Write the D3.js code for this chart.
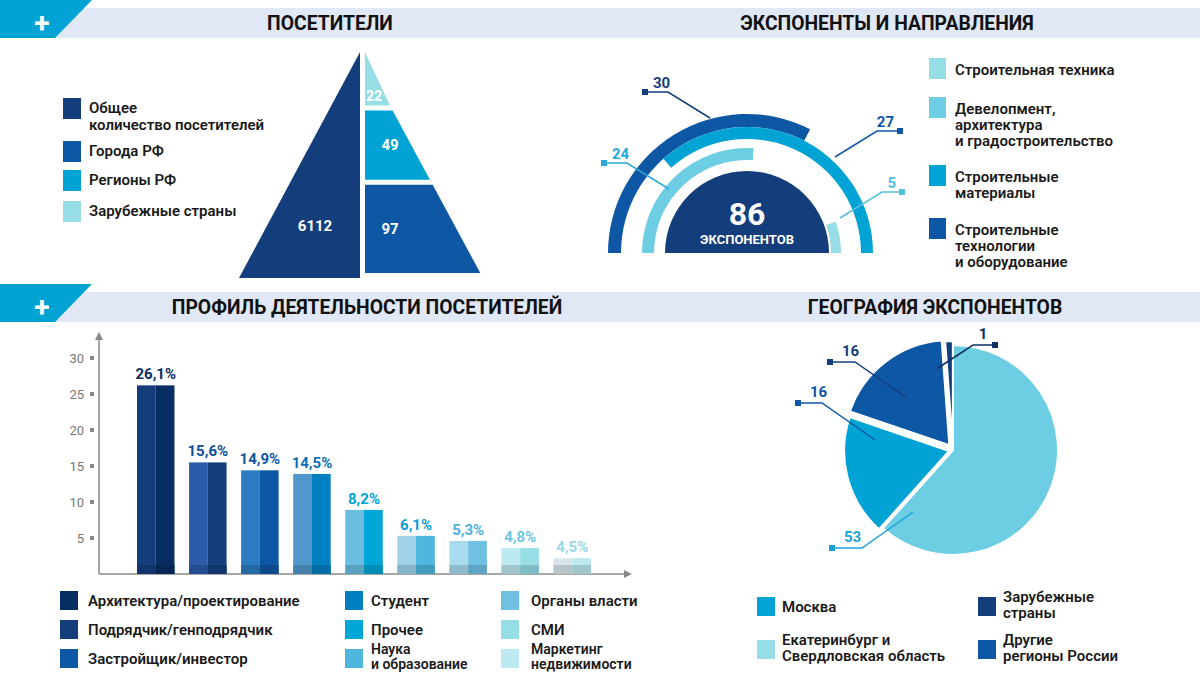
<!DOCTYPE html>
<html><head><meta charset="utf-8">
<script src="https://cdn.jsdelivr.net/npm/d3@7"></script>
<style>
body{margin:0;background:#fff;}
text{font-family:Roboto,"Noto Sans",sans-serif;}
</style></head>
<body><svg id="chart" width="1200" height="676"></svg>
<script>
// visitors pyramid
const visitorTotal = 6112;
const visitorParts = [{name:'Зарубежные страны', value:22}, {name:'Регионы РФ', value:49}, {name:'Города РФ', value:97}];
const visitorLegend = [['Общее', 'количество посетителей'], ['Города РФ'], ['Регионы РФ'], ['Зарубежные страны']];
const visitorColors = ['#143d7c', '#0e57a5', '#00a3d4', '#96dde5'];

// exhibitor arcs
const exhibitorTotal = 86;
const directionNames = [['Строительная техника'], ['Девелопмент,', 'архитектура', 'и градостроительство'], ['Строительные', 'материалы'], ['Строительные', 'технологии', 'и оборудование']];
const directionValues = [5, 24, 27, 30];
const directionColors = ['#96dde5', '#6dcde3', '#00a3d4', '#0e57a5'];

// activity profile
const profileNames = ['Архитектура/проектирование', 'Подрядчик/генподрядчик', 'Застройщик/инвестор', 'Студент', 'Прочее', 'Наука|и образование', 'Органы власти', 'СМИ', 'Маркетинг|недвижимости'];
const profileLabels = ['26,1%', '15,6%', '14,9%', '14,5%', '8,2%', '6,1%', '5,3%', '4,8%', '4,5%'];
const profileHeights = [26.2, 15.5, 14.4, 13.9, 8.9, 5.3, 4.6, 3.6, 2.2];
const profileTicks = [5, 10, 15, 20, 25, 30];
const barLeft = ['#143d7c', '#2a5aa8', '#2a7bbf', '#5297cc', '#6abde0', '#9fd2e8', '#a8dbee', '#bdeaf0', '#d8e6ec'];
const barRight = ['#082d63', '#143d7c', '#0e57a5', '#0080c0', '#00a6d6', '#4fb6de', '#70c0e4', '#96dde5', '#bdeaf0'];
const labelColors = ['#0b2f66', '#0e4d97', '#0e57a5', '#0e6fb5', '#00a3d4', '#109bd0', '#4fb0dc', '#70c7e0', '#96d8e5'];
const legendColors = ['#082d63', '#143d7c', '#0e57a5', '#0080c0', '#00a6d6', '#4fb6de', '#70c0e4', '#96dde5', '#bdeaf0'];

// geography
const geoNames = ['Екатеринбург и|Свердловская область', 'Москва', 'Другие|регионы России', 'Зарубежные|страны'];
const geoValues = [53, 16, 16, 1];
const geoColors = ['#6dcde3', '#00a3d4', '#0e57a5', '#143d7c'];

const svg = d3.select('#chart');

// headers
const header = (y, titles) => {
  svg.append('rect').attr('x', 0).attr('y', y).attr('width', 1200).attr('height', 30).attr('fill', '#dfe8f4');
  svg.append('path').attr('d', `M0,${y - 8}L92,${y - 8}L55,${y + 30}L0,${y + 30}Z`).attr('fill', '#00a3d4');
  svg.append('text').attr('x', 42).attr('y', y + 15).attr('text-anchor', 'middle').attr('dominant-baseline', 'central')
    .attr('fill', '#fff').attr('font-size', 28).attr('font-weight', 700).text('+');
  titles.forEach(([x, t]) => svg.append('text').attr('x', x).attr('y', y + 22).attr('text-anchor', 'middle')
    .attr('font-size', 21).attr('font-weight', 700).attr('fill', '#111').attr('transform', `translate(${x},0) scale(0.92,1) translate(${-x},0)`).text(t));
};
header(8, [[330, 'ПОСЕТИТЕЛИ'], [887, 'ЭКСПОНЕНТЫ И НАПРАВЛЕНИЯ']]);
header(292, [[367, 'ПРОФИЛЬ ДЕЯТЕЛЬНОСТИ ПОСЕТИТЕЛЕЙ'], [935, 'ГЕОГРАФИЯ ЭКСПОНЕНТОВ']]);

// ---------- pyramid ----------
{
  const apex = [361, 52], baseY = 278, halfW = 122;
  const xAt = yy => apex[0] + halfW * (yy - apex[1]) / (baseY - apex[1]);
  svg.append('path').attr('d', `M${apex[0] - 1},${apex[1]}L${apex[0] - 1},${baseY}L${apex[0] - halfW},${baseY}Z`).attr('fill', visitorColors[0]);
  svg.append('text').attr('x', 315).attr('y', 231).attr('text-anchor', 'middle').attr('fill', '#fff')
    .attr('font-size', 15).attr('font-weight', 700).text(visitorTotal);
  // tier heights grow with the square root of each value
  const cum = [0];
  visitorParts.forEach(d => cum.push(cum[cum.length - 1] + Math.sqrt(d.value) + 4));
  const y = d3.scaleLinear().domain([0, cum[cum.length - 1]]).range([apex[1], baseY]);
  visitorParts.forEach((d, i) => {
    const y0 = y(cum[i]), y1 = y(cum[i + 1]) - 5;
    const x0 = apex[0] + 4;
    const c = i === 0 ? visitorColors[3] : i === 1 ? visitorColors[2] : visitorColors[1];
    svg.append('path').attr('d', `M${x0},${y0}L${Math.max(x0, xAt(y0))},${y0}L${xAt(y1)},${y1}L${x0},${y1}Z`).attr('fill', c);
    svg.append('text').attr('x', i === 0 ? 374 : 390).attr('y', i === 0 ? y1 - 5 : (y0 + y1) / 2 + 5).attr('text-anchor', 'middle')
      .attr('fill', '#fff').attr('font-size', i === 0 ? 14 : 15).attr('font-weight', 700).text(d.value);
  });
  const ly = [98, 141, 170, 201];
  visitorLegend.forEach((lines, i) => {
    svg.append('rect').attr('x', 63).attr('y', ly[i]).attr('width', 18).attr('height', 21).attr('fill', visitorColors[i]);
    lines.forEach((t, j) => svg.append('text').attr('x', 89).attr('y', ly[i] + 15 + j * 17)
      .attr('font-size', 15).attr('font-weight', 600).attr('fill', '#1a1a1a').text(t));
  });
}

// ---------- exhibitor arcs ----------
{
  const g = svg.append('g').attr('transform', 'translate(747,253)');
  const deg = d3.scaleLinear().domain([0, 30]).range([0, 117]);
  const rad = a => a * Math.PI / 180;
  g.append('path').attr('d', d3.arc()({innerRadius: 0, outerRadius: 82, startAngle: -Math.PI / 2, endAngle: Math.PI / 2})).attr('fill', '#143d7c');
  g.append('text').attr('y', -28).attr('text-anchor', 'middle').attr('fill', '#fff').attr('font-size', 32).attr('font-weight', 700).text(exhibitorTotal);
  g.append('text').attr('y', -9).attr('text-anchor', 'middle').attr('fill', '#fff').attr('font-size', 13).attr('font-weight', 700).text('ЭКСПОНЕНТОВ');
  const rings = [[3, 126, 139, 'start'], [2, 114, 126, 'end'], [1, 93, 105, 'start'], [0, 84, 94, 'end']];
  rings.forEach(([i, r0, r1, side]) => {
    const span = deg(directionValues[i]) * (i === 2 ? 1.25 : 1);
    const a0 = side === 'start' ? -90 : 90 - span, a1 = side === 'start' ? -90 + span : 90;
    g.append('path').attr('d', d3.arc()({innerRadius: r0, outerRadius: r1, startAngle: rad(a0), endAngle: rad(a1)})).attr('fill', directionColors[i]);
  });
  const calls = [[3, -102, -161, -79, -161, -38, 'end', '#143d7c'], [2, 153, -122, 130, -122, 91, 'start', '#0e57a5'],
                 [1, -143, -90, -120, -90, -80, 'end', '#2aa8d8'], [0, 155, -61, 135, -61, 93, 'start', '#55bfe0']];
  calls.forEach(([i, mx, my, kx, ky, ex, side, col]) => {
    g.append('path').attr('d', `M${mx},${my}L${kx},${ky}L${kx + (side === 'end' ? 42 : -42)},${ky + 26}`).attr('fill', 'none').attr('stroke', col).attr('stroke-width', 1.5);
    g.append('rect').attr('x', mx - 3).attr('y', my - 3).attr('width', 6).attr('height', 6).attr('fill', col);
    g.append('text').attr('x', side === 'end' ? mx + 8 : mx - 6).attr('y', my - 4).attr('text-anchor', side === 'end' ? 'start' : 'end')
      .attr('fill', col).attr('font-size', 15).attr('font-weight', 700).text(directionValues[i]);
  });
  const ly = [58, 97, 165, 218];
  directionNames.forEach((lines, i) => {
    svg.append('rect').attr('x', 929).attr('y', ly[i]).attr('width', 17).attr('height', 21).attr('fill', directionColors[i]);
    lines.forEach((t, j) => svg.append('text').attr('x', 955).attr('y', ly[i] + 17 + j * 16)
      .attr('font-size', 15).attr('font-weight', 600).attr('fill', '#1a1a1a').text(t));
  });
}

// ---------- activity bars ----------
{
  const x = d3.scaleBand().domain(profileNames).range([137, 591]).paddingInner(0.28).paddingOuter(0);
  const y = d3.scaleLinear().domain([0, 30]).range([574, 358]);
  svg.append('line').attr('x1', 99).attr('x2', 626).attr('y1', 574).attr('y2', 574).attr('stroke', '#888').attr('stroke-width', 1.5);
  svg.append('line').attr('x1', 99).attr('x2', 99).attr('y1', 574).attr('y2', 337).attr('stroke', '#888').attr('stroke-width', 1.5);
  svg.append('path').attr('d', 'M95,340L99,332L103,340Z').attr('fill', '#888');
  svg.append('path').attr('d', 'M624,570L632,574L624,578Z').attr('fill', '#888');
  const ax = svg.append('g').attr('transform', 'translate(86,0)')
    .call(d3.axisLeft(y).tickValues(profileTicks).tickSize(0).tickPadding(2));
  ax.select('.domain').remove();
  ax.selectAll('text').attr('font-size', 13).attr('fill', '#777').attr('font-family', 'Roboto');
  profileTicks.forEach(t => svg.append('rect').attr('x', 90).attr('y', y(t) - 2).attr('width', 4).attr('height', 4).attr('fill', '#888'));
  const bw = x.bandwidth();
  profileNames.forEach((n, i) => {
    const x0 = x(n), yt = y(profileHeights[i]);
    const dark = c => d3.color(c).darker(0.45);
    svg.append('rect').attr('x', x0).attr('y', yt).attr('width', bw / 2).attr('height', 574 - yt).attr('fill', barLeft[i]);
    svg.append('rect').attr('x', x0 + bw / 2).attr('y', yt).attr('width', bw / 2).attr('height', 574 - yt).attr('fill', barRight[i]);
    svg.append('rect').attr('x', x0).attr('y', 565).attr('width', bw / 2).attr('height', 9).attr('fill', dark(barLeft[i]));
    svg.append('rect').attr('x', x0 + bw / 2).attr('y', 565).attr('width', bw / 2).attr('height', 9).attr('fill', dark(barRight[i]));
    svg.append('text').attr('x', x0 + bw / 2).attr('y', yt - 6).attr('text-anchor', 'middle')
      .attr('fill', labelColors[i]).attr('font-size', 15).attr('font-weight', 700).text(profileLabels[i]);
  });
  const cols = [[60, 88], [345, 371], [501, 531]];
  const rowY = [591, 620, 649];
  profileNames.forEach((n, i) => {
    const [sx, tx] = cols[Math.floor(i / 3)], yy = rowY[i % 3];
    svg.append('rect').attr('x', sx).attr('y', yy).attr('width', 18).attr('height', 19).attr('fill', legendColors[i]);
    const lines = n.split('|');
    lines.forEach((t, j) => svg.append('text').attr('x', tx).attr('y', lines.length > 1 ? yy + 5 + j * 15 : yy + 15)
      .attr('font-size', lines.length > 1 ? 14 : 15).attr('font-weight', 600).attr('fill', '#1a1a1a').text(t));
  });
}

// ---------- geography pie ----------
{
  const g = svg.append('g').attr('transform', 'translate(953,450)');
  const pie = d3.pie().sort(null).value(d => d)(geoValues);
  const arc = d3.arc().innerRadius(0).outerRadius(105);
  const shift = [0, 4, 6, 4];
  pie.forEach((p, i) => {
    const m = (p.startAngle + p.endAngle) / 2;
    g.append('path').attr('d', arc(p)).attr('fill', geoColors[i]).attr('stroke', '#fff').attr('stroke-width', 2)
      .attr('transform', `translate(${Math.sin(m) * shift[i]},${-Math.cos(m) * shift[i]})`);
  });
  const calls = [[0, -121, 98, -91, 98, -40, 62, '#1aa3d6'], [1, -155, -47, -131, -47, -78, -10, '#0e57a5'],
                 [2, -123, -88, -98, -88, -46, -52, '#143d7c'], [3, 42, -105, 20, -105, -15, -82, '#0b2f66']];
  calls.forEach(([i, mx, my, kx, ky, ex, ey, col]) => {
    g.append('path').attr('d', `M${mx},${my}L${kx},${ky}L${ex},${ey}`).attr('fill', 'none').attr('stroke', col).attr('stroke-width', 1.5);
    g.append('rect').attr('x', mx - 3).attr('y', my - 3).attr('width', 6).attr('height', 6).attr('fill', col);
    g.append('text').attr('x', i === 3 ? mx - 12 : mx + 12).attr('y', my - 6).attr('text-anchor', i === 3 ? 'middle' : 'start')
      .attr('fill', col).attr('font-size', 15).attr('font-weight', 700).text(geoValues[i]);
  });
  const pos = [[757, 640], [757, 597], [978, 640], [978, 597]];
  const lc = ['#96dde5', '#00a3d4', '#0e57a5', '#143d7c'];
  geoNames.forEach((n, i) => {
    const [sx, sy] = pos[i];
    svg.append('rect').attr('x', sx).attr('y', sy).attr('width', 18).attr('height', 19).attr('fill', lc[i]);
    const lines = n.split('|');
    lines.forEach((t, j) => svg.append('text').attr('x', sx + 25).attr('y', lines.length > 1 ? sy + 5 + j * 16 : sy + 15)
      .attr('font-size', 15).attr('font-weight', 600).attr('fill', '#1a1a1a').text(t));
  });
}
</script></body></html>
